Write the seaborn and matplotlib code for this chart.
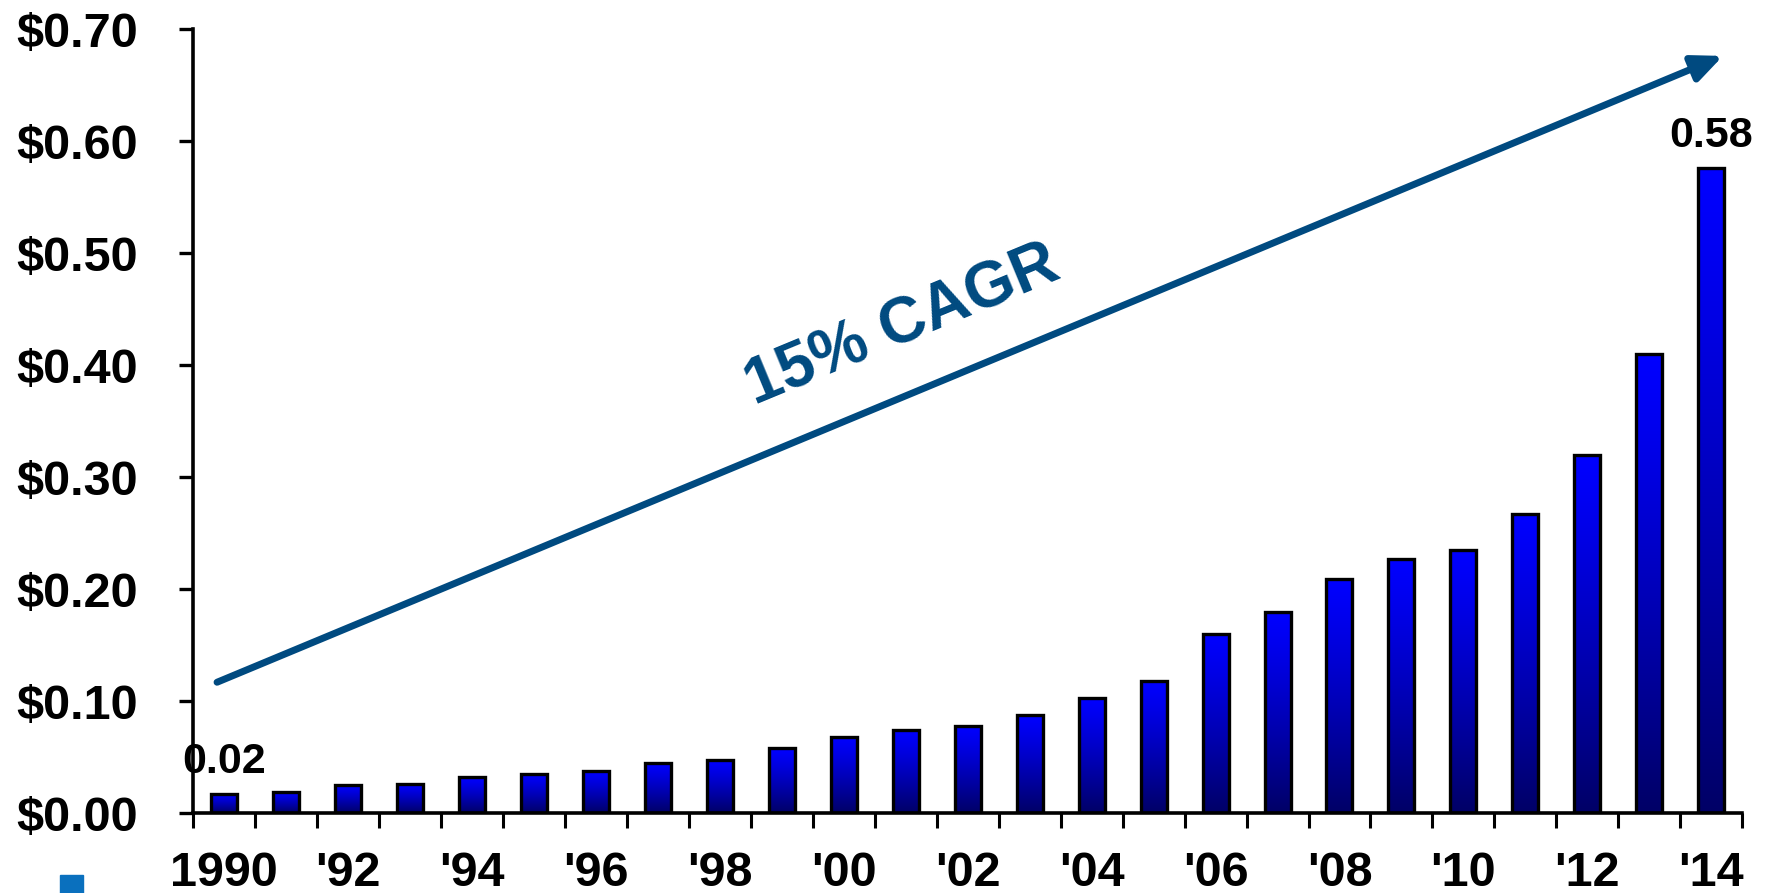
import numpy as np
import pandas as pd
import matplotlib
matplotlib.use("Agg")
import matplotlib.pyplot as plt
from matplotlib.patches import Rectangle
import seaborn as sns

# Annual dividend per share, 1990-2014
years = [str(y) for y in range(1990, 2015)]
dividends = [0.017, 0.019, 0.025, 0.026, 0.032, 0.035, 0.038, 0.045, 0.048,
             0.058, 0.068, 0.074, 0.078, 0.088, 0.103, 0.118, 0.160, 0.180,
             0.209, 0.227, 0.235, 0.267, 0.320, 0.410, 0.576]
tick_labels = ["1990", "'92", "'94", "'96", "'98", "'00", "'02", "'04",
               "'06", "'08", "'10", "'12", "'14"]
y_ticks = [0.0, 0.1, 0.2, 0.3, 0.4, 0.5, 0.6, 0.7]
labelled_years = ["1990", "2014"]
trend_text = "15% CAGR"

sns.set_style("ticks")
plt.rcParams["font.family"] = ["Liberation Sans", "DejaVu Sans"]
plt.rcParams["font.weight"] = "bold"
plt.rcParams["text.color"] = "black"
plt.rcParams["xtick.color"] = "black"
plt.rcParams["ytick.color"] = "black"
plt.rcParams["axes.edgecolor"] = "black"

fig = plt.figure(figsize=(17.79, 8.93), dpi=100)
ax = fig.add_axes([0.1087, 0.0892, 0.8706, 0.8783])

df = pd.DataFrame({"year": years, "dividend": dividends})
sns.barplot(data=df, x="year", y="dividend", order=years, color="#0000FF",
            width=0.42, edgecolor="black", linewidth=2.4, ax=ax, zorder=3)

# vertical blue gradient inside each bar
t = np.linspace(0, 1, 256)
shade = 1.0 - 0.6 * t ** 1.2
grad = np.zeros((256, 1, 3))
grad[:, 0, 2] = shade
for p in ax.patches:
    x0, y0 = p.get_x(), p.get_y()
    w, h = p.get_width(), p.get_height()
    ax.imshow(grad, extent=[x0, x0 + w, y0, y0 + h], aspect="auto",
              origin="upper", zorder=2, interpolation="bilinear")
    p.set_facecolor("none")

ax.set_xlim(-0.5, len(years) - 0.5)
ax.set_ylim(0, 0.70)

# category boundary ticks, labels on every other bar
ax.set_xticks(np.arange(-0.5, len(years), 1.0), labels=[""] * (len(years) + 1))
ax.set_xticks(np.arange(0, len(years), 2), labels=tick_labels, minor=True)
ax.tick_params(axis="x", which="major", length=11, width=2.2, direction="out",
               color="black")
ax.tick_params(axis="x", which="minor", length=0, pad=27, labelsize=35,
               labelcolor="black")
ax.set_yticks(y_ticks)
ax.yaxis.set_major_formatter(lambda v, pos: "\\$" + f"{v:.2f}")
ax.tick_params(axis="y", which="major", length=10, width=2.4, pad=30,
               labelsize=35, color="black", labelcolor="black")
for lab in ax.get_xticklabels(minor=True) + ax.get_yticklabels():
    lab.set_fontweight("bold")

ax.set_xlabel("")
ax.set_ylabel("")
sns.despine(ax=ax)
for s in ("left", "bottom"):
    ax.spines[s].set_linewidth(2.6)
    ax.spines[s].set_color("black")

# value labels on first and last bar
for yr in labelled_years:
    i = years.index(yr)
    ax.annotate(f"{dividends[i]:.2f}", xy=(i, dividends[i]),
                xytext=(0, 15), textcoords="offset points",
                ha="center", va="baseline", fontsize=31,
                fontweight="bold", color="black", zorder=5)

# growth trend arrow
arrow_color = "#004A80"
ax.annotate("", xy=(24.19, 0.676), xytext=(-0.118, 0.117),
            arrowprops=dict(arrowstyle="-|>,head_length=0.9,head_width=0.4",
                            color=arrow_color, lw=5, mutation_scale=20,
                            shrinkA=0, shrinkB=0),
            zorder=4, annotation_clip=False)
ax.text(11.05, 0.4206, trend_text, rotation=22.5, rotation_mode="anchor",
        ha="center", va="baseline", fontsize=46, fontweight="bold",
        color=arrow_color, zorder=4)

# small logo corner at the bottom left
fig.patches.append(Rectangle((60 / 1779, 0), 23 / 1779, 18 / 893,
                             transform=fig.transFigure, color="#0A70BE",
                             zorder=1))

fig.savefig("out.png", dpi=100)
